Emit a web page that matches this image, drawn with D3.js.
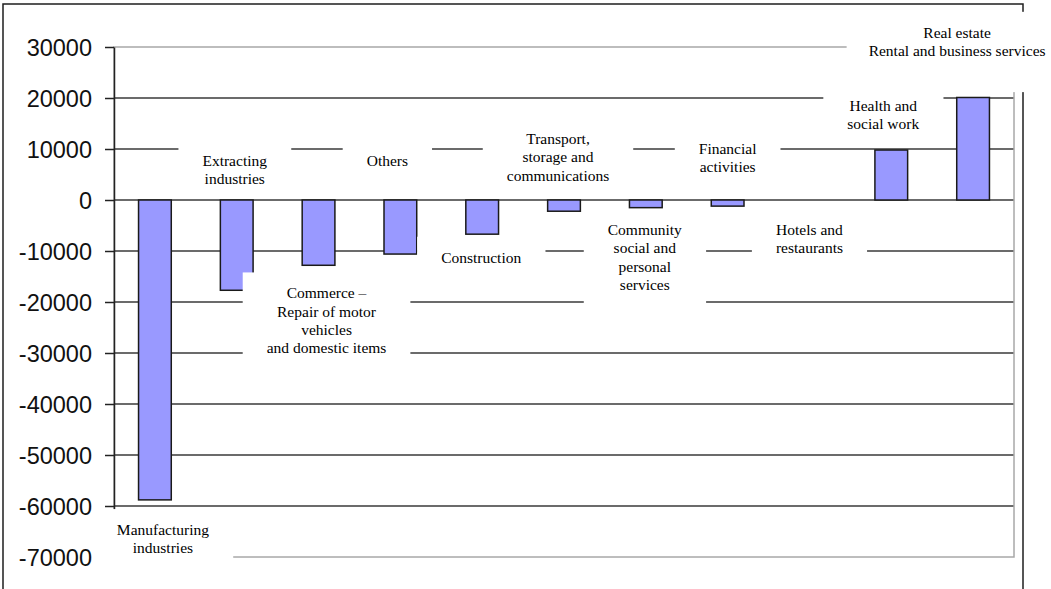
<!DOCTYPE html>
<html>
<head>
<meta charset="utf-8">
<script src="https://cdn.jsdelivr.net/npm/d3@7"></script>
<style>
  body { margin: 0; background: #fff; }
  .tick text { font-family: "Liberation Sans", Arial, sans-serif; font-size: 23.5px; fill: #111; }
  .lbl { font-family: "Liberation Serif", "Times New Roman", serif; font-size: 15.5px; fill: #000; }
</style>
</head>
<body>
<svg id="chart" width="1051" height="589"></svg>
<script>
// sectors, in the order of the bars
const categories = [
  "Manufacturing industries", "Extracting industries",
  "Commerce – Repair of motor vehicles and domestic items", "Others",
  "Construction", "Transport, storage and communications",
  "Community social and personal services", "Financial activities",
  "Hotels and restaurants", "Health and social work",
  "Real estate Rental and business services"
];
const values = [-58800, -17700, -12800, -10600, -6700, -2200, -1500, -1200, 0, 9800, 20100];
const labelLines = [
  ["Manufacturing", "industries"], ["Extracting", "industries"],
  ["Commerce –", "Repair of motor", "vehicles", "and domestic items"], ["Others"],
  ["Construction"], ["Transport,", "storage and", "communications"],
  ["Community", "social and", "personal", "services"], ["Financial", "activities"],
  ["Hotels and", "restaurants"], ["Health and", "social work"],
  ["Real estate", "Rental and business services"]
];
const yTicks = [30000, 20000, 10000, 0, -10000, -20000, -30000, -40000, -50000, -60000, -70000];

// where each text box sits: offset from the bar centre, value at the first baseline
const labelDx = [8, -2, 8, -13, -1, -6, -1, 0, 0, -8, -16];
const labelAt = [-65700, 6700, -19300, 6700, -12300, 11000, -6900, 9000, -6900, 17450, 31800];
// box padding [top, right, bottom, left]
const boxPad = i => ({0: [12, 24, 30, 18], 6: [12, 24, 12, 24], 10: [12, 40, 33, 22]}[i] || [12, 24, 8, 24]);

const svg = d3.select('#chart');
const plotL = 114, plotR = 1014, plotT = 47, plotB = 557;
const lineH = 18.3;

const x = d3.scaleBand().domain(categories).range([plotL, plotR])
  .paddingInner(0.6).paddingOuter(0.3);
const y = d3.scaleLinear().domain([-70000, 30000]).range([plotB, plotT]);

// outer chart frame
svg.append('rect')
  .attr('x', 3).attr('y', 4).attr('width', 1020).attr('height', 700)
  .attr('fill', 'none').attr('stroke', '#1e1e1e').attr('stroke-width', 1.5);

// gridlines
svg.append('g').selectAll('line')
  .data(yTicks.filter(d => d < 30000 && d > -70000))
  .join('line')
  .attr('x1', plotL).attr('x2', plotR)
  .attr('y1', d => y(d)).attr('y2', d => y(d))
  .attr('stroke', '#3a3a3a').attr('stroke-width', 1.6);

// plot area border
svg.append('rect')
  .attr('x', plotL).attr('y', plotT).attr('width', plotR - plotL).attr('height', plotB - plotT)
  .attr('fill', 'none').attr('stroke', '#a8a8a8').attr('stroke-width', 1.5);

// bars
svg.append('g').selectAll('rect')
  .data(values)
  .join('rect')
  .attr('x', (d, i) => x(categories[i]))
  .attr('width', x.bandwidth())
  .attr('y', d => y(Math.max(0, d)))
  .attr('height', d => Math.abs(y(d) - y(0)))
  .attr('fill', '#9999ff')
  .attr('stroke', '#1a1a1a').attr('stroke-width', 1.5);

// value axis
const axis = svg.append('g')
  .attr('transform', `translate(${plotL},0)`)
  .call(d3.axisLeft(y).tickValues(yTicks).tickSizeInner(9).tickSizeOuter(0)
    .tickPadding(13).tickFormat(d => String(d)));
axis.select('.domain').attr('stroke', '#222').attr('stroke-width', 1.5);
axis.selectAll('.tick line').attr('stroke', '#222').attr('stroke-width', 1.5);
axis.selectAll('.tick text').attr('dy', '0.36em');

// sector labels as white text boxes laid over the chart
labelLines.forEach((lines, i) => {
  const g = svg.append('g');
  const cx = x(categories[i]) + x.bandwidth() / 2 + labelDx[i];
  const text = g.append('text').attr('class', 'lbl').attr('text-anchor', 'middle');
  lines.forEach((s, k) => {
    text.append('tspan').attr('x', cx).attr('y', y(labelAt[i]) + k * lineH).text(s);
  });
  const b = text.node().getBBox();
  const p = boxPad(i);
  g.insert('rect', 'text')
    .attr('x', b.x - p[3]).attr('y', b.y - p[0])
    .attr('width', b.width + p[1] + p[3]).attr('height', b.height + p[0] + p[2])
    .attr('fill', '#fff');
});
</script>
</body>
</html>
